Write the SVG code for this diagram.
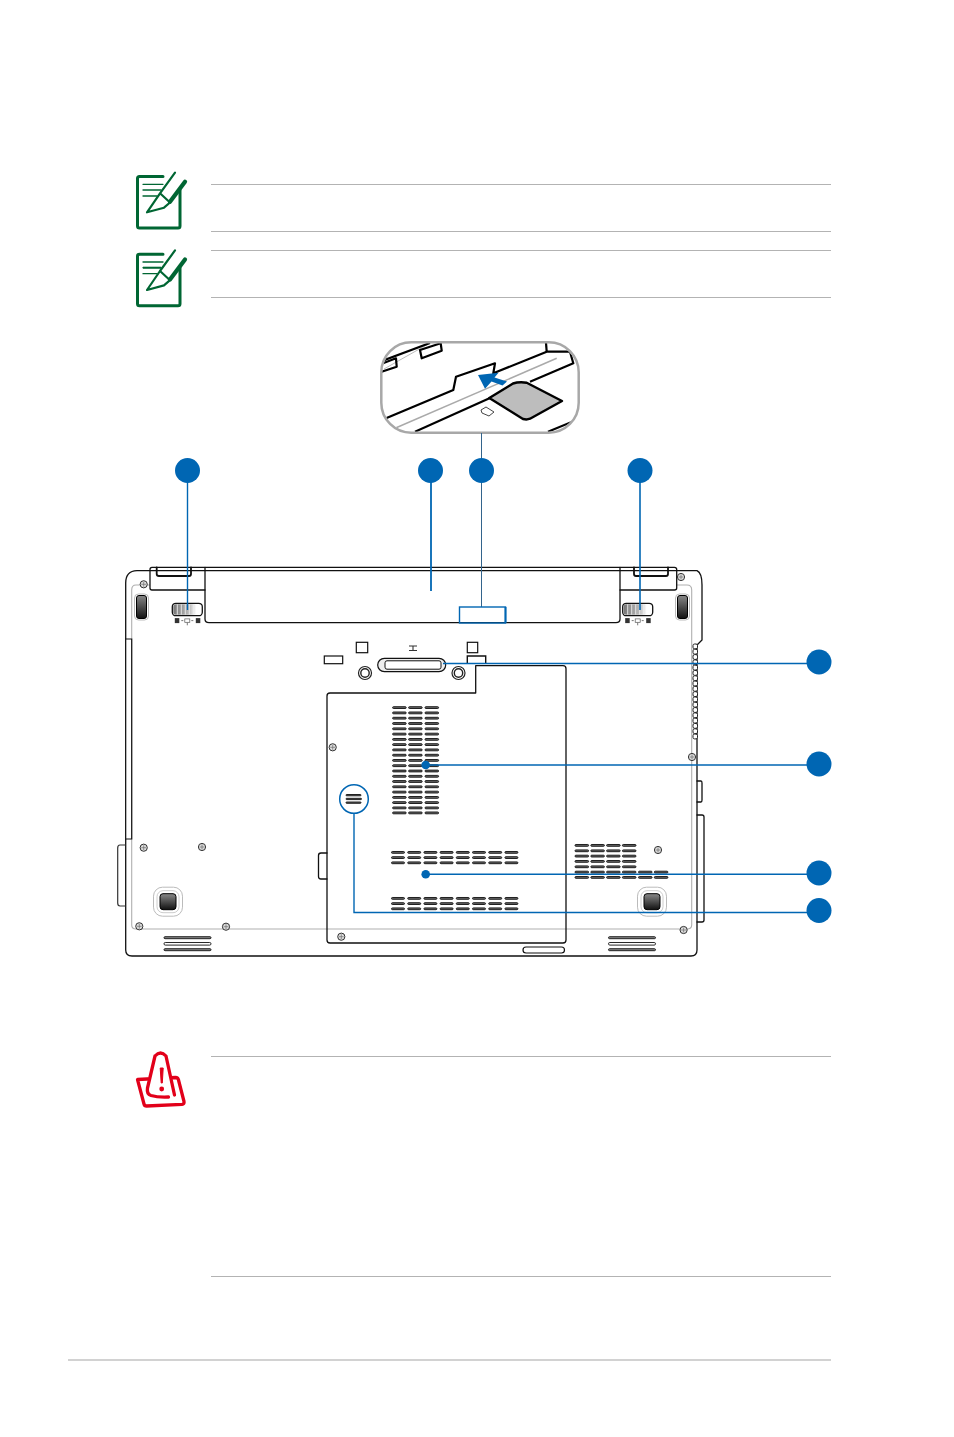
<svg xmlns="http://www.w3.org/2000/svg" width="954" height="1437" viewBox="0 0 954 1437">
<style>
.rule{stroke:#b3b3b3;stroke-width:1;fill:none}
.ln{fill:none;stroke:#111;stroke-width:1.3;stroke-linejoin:round;stroke-linecap:round}
.thin{fill:none;stroke:#333;stroke-width:1.2;stroke-linejoin:round}
.in{fill:none;stroke:#b0b0b0;stroke-width:1.1}
.blue{fill:none;stroke:#0066b3;stroke-width:1.4}
.dot{fill:#0066b3}
.slot{fill:#666;stroke:#111;stroke-width:.9}
.grn{fill:none;stroke:#006633;stroke-linecap:round;stroke-linejoin:round}
.red{fill:none;stroke:#e2001a;stroke-width:3.3;stroke-linecap:round;stroke-linejoin:round}
.ins{fill:none;stroke:#000;stroke-width:2.2;stroke-linejoin:round}
</style>
<defs>
<linearGradient id="bodyFill" x1="0" y1="0" x2="0" y2="1">
<stop offset="0" stop-color="#f1f1f1"/><stop offset=".1" stop-color="#fdfdfd"/><stop offset=".65" stop-color="#fff"/><stop offset="1" stop-color="#ececec"/>
</linearGradient>
<linearGradient id="battFill" x1="0" y1="0" x2="0" y2="1">
<stop offset="0" stop-color="#f4f4f4"/><stop offset=".3" stop-color="#fff"/><stop offset=".7" stop-color="#fff"/><stop offset="1" stop-color="#e6e6e6"/>
</linearGradient>
<linearGradient id="footFill" x1="0" y1="0" x2="0" y2="1">
<stop offset="0" stop-color="#888"/><stop offset="1" stop-color="#111"/>
</linearGradient>
<linearGradient id="ribs" x1="0" y1="0" x2="1" y2="0">
<stop offset="0" stop-color="#777"/><stop offset=".7" stop-color="#bbb"/><stop offset="1" stop-color="#fff"/>
</linearGradient>
<clipPath id="lens"><rect x="382" y="343" width="196" height="89" rx="30"/></clipPath>
<rect id="s12" class="slot" x="0" y="-.8" width="13" height="1.800" rx=".9"/>
<rect id="s14" class="slot" x="0" y="-.8" width="13.600" height="1.800" rx=".9"/>
<g id="vrow"><use href="#s14"/><use href="#s14" x="16"/><use href="#s14" x="32.400"/></g>
<g id="hrow"><use href="#s12"/><use href="#s12" x="16.200"/><use href="#s12" x="32.400"/><use href="#s12" x="48.600"/><use href="#s12" x="64.800"/><use href="#s12" x="81"/><use href="#s12" x="97.200"/><use href="#s12" x="113.400"/></g>
<g id="rrow"><use href="#s14"/><use href="#s14" x="15.800"/><use href="#s14" x="31.600"/><use href="#s14" x="47.400"/></g>
<g id="grill">
<rect class="slot" x="0" y="0" width="47" height="2" rx="1" style="fill:#888"/>
<rect class="slot" x="0" y="5.800" width="47" height="2.600" rx="1.300" style="fill:#fff"/>
<rect class="slot" x="0" y="12" width="47" height="2" rx="1" style="fill:#888"/>
</g>
<g id="screw">
<circle r="3.600" fill="#ddd" stroke="#333" stroke-width="1"/>
<path d="M-2.400 0H2.400M0-2.400V2.400" stroke="#777" stroke-width=".8"/>
</g>
<g id="foot">
<rect x="-14.500" y="-14.500" width="29" height="29" rx="9" fill="#fff" stroke="#bbb" stroke-width="1"/>
<rect x="-11" y="-11" width="22" height="22" rx="6" fill="none" stroke="#ccc" stroke-width="1"/>
<rect x="-8" y="-8" width="16" height="16" rx="3" fill="url(#footFill)" stroke="#000" stroke-width="1"/>
</g>
<g id="pad">
<rect x="-7" y="-13" width="14" height="26" rx="4" fill="#fff" stroke="#bbb" stroke-width="1"/>
<rect x="-5" y="-11.500" width="10" height="23" rx="2.500" fill="url(#footFill)" stroke="#000" stroke-width="1"/>
</g>
<g id="latch">
<rect x="0" y="0" width="30" height="12.400" rx="3.500" fill="#fff" stroke="#111" stroke-width="1.300"/>
<rect x="1" y="1" width="23" height="10.400" rx="2.500" fill="url(#ribs)"/>
<path d="M5 1v10.400M9 1v10.400M13 1v10.400M17 1v10.400M21 1v10.400" stroke="#eee" stroke-width=".9"/>
<rect x="2.500" y="14.800" width="4.500" height="5" fill="#333"/>
<rect x="12.500" y="15.600" width="5" height="3.400" fill="none" stroke="#555" stroke-width=".7"/>
<rect x="23.500" y="14.800" width="4.500" height="5" fill="#333"/>
<path d="M9 17.300h2M19 17.300h2M15 19.400v2.600" stroke="#555" stroke-width=".8"/>
</g>
<g id="note">
<path class="grn" stroke-width="3" d="M163 176.500H139.500q-2 0-2 2V226q0 2 2 2H178q2 0 2-2V190"/>
<path class="grn" stroke-width="1.300" d="M143 184.300H163M143 190H161M143 196H157"/>
<path class="grn" stroke-width="2.200" d="M175 172.700L160 193.300L170 202.500L164 207.700L147 212.300L160 193.300"/>
<path class="grn" stroke-width="4.200" d="M185 181.700L170 201.700"/>
</g>
</defs>

<g id="page-rules">
<path class="rule" d="M211 184.500H831M211 231.500H831M211 250.500H831M211 297.500H831M211 1056.500H831M211 1276.500H831"/>
<path d="M68 1360H831" stroke="#d2d2d2" stroke-width="2"/>
</g>

<g id="note-icon-1"><use href="#note"/></g>
<g id="note-icon-2"><use href="#note" y="77.700"/><path d="M143 267.700H161" stroke="#006633" stroke-width="2"/></g>

<g id="warning-icon">
<path class="red" d="M137.500 1079.500L175.500 1077.500Q178 1077.500 178.500 1080L184 1101.500Q184.500 1104 182 1104.300L146.500 1106Q144.500 1106 144 1104L137.500 1079.500Z" fill="#fff"/>
<path d="M155 1054Q160.500 1050 165.500 1054L176 1094Q160 1100 148 1097Q144 1092 146 1088Z" fill="#fff"/>
<path class="red" d="M155 1056Q160.500 1050 166 1056L174.500 1095M155 1056L147.500 1088Q146.500 1094 151 1095.500Q158 1097.500 168.500 1097"/>
<path d="M160.200 1068H163.200L162.300 1083H161.200Z" fill="#e2001a" stroke="#e2001a" stroke-width="1"/>
<circle cx="161.700" cy="1089" r="2.400" fill="#e2001a"/>
</g>

<g id="card-inset">
<g clip-path="url(#lens)">
<rect x="381" y="342" width="198" height="91" fill="#fff"/>
<path d="M384 369L430 343" stroke="#bbb" stroke-width="1" fill="none"/>
<path class="ins" d="M382 361L430 343"/>
<path class="ins" d="M420 350L440.700 343.300L441.700 350.700L421.700 358.300Z"/>
<path class="ins" d="M381 364L396 358.300L396.700 366.700L381 372"/>
<path d="M395 428.300L556.700 358.300" stroke="#aaa" stroke-width="1.500" fill="none"/>
<path class="ins" d="M386 418.300L453.300 390L456 376.700L495 363.300L493.300 373.300L546.700 351.700L570 351.700L573.300 363.300L530 381.700"/>
<path class="ins" d="M546.700 351.700L546 343"/>
<path class="ins" d="M415 431.700L490 398"/>
<path class="ins" d="M548 431.700L579 419"/>
</g>
<path d="M489.300 398L513 383.500Q519 381.500 526.700 382.700L562 401L530 418.700Q527 420 523 419Z" fill="#bdbdbd" stroke="#000" stroke-width="2.400" stroke-linejoin="round"/>
<path d="M478 375L498.500 372.700L494.500 377.500L507 381.500L502.500 385.500L491.500 381.500L485 388.800Z" fill="#0066b3"/>
<path d="M481 410L486 407L494 412L489 416L482 413Z" fill="#fff" stroke="#333" stroke-width=".9"/>
<rect x="381.300" y="342.300" width="197.400" height="90.400" rx="30" fill="none" stroke="#a8a8a8" stroke-width="2.500"/>
</g>

<g id="laptop-body">
<path class="ln" d="M125.700 900V583Q125.700 571 137 570.700H697Q702 573 702 585V640L697 645V950Q697 956 691 956H132Q125.700 956 125.700 950Z" fill="url(#bodyFill)"/>
<path class="thin" d="M125.700 845H120Q117.700 845 117.700 848V903Q117.700 906 120 906H125.700"/>
<path class="in" d="M150 585H136Q131.700 585 131.700 590V925Q131.700 929 136 929H687Q691.700 929 691.700 925V590Q691.700 585 687 585H676"/>
<path d="M125.700 639H131.700V839H125.700Z" fill="#fff" stroke="#111" stroke-width="1.200"/>
<path class="ln" d="M697 781H701Q702 781 702 783V800Q702 802 701 802H697"/>
<path class="ln" d="M697 815H702Q704 815 704 817V920Q704 922 702 922H697"/>
<!-- serrated edge along the right side -->
<g fill="#fff" stroke="#222" stroke-width="1">
<rect x="693" y="644" width="4.500" height="4.800" rx="1.500"/><rect x="693" y="649.300" width="4.500" height="4.800" rx="1.500"/><rect x="693" y="654.600" width="4.500" height="4.800" rx="1.500"/><rect x="693" y="659.900" width="4.500" height="4.800" rx="1.500"/><rect x="693" y="665.200" width="4.500" height="4.800" rx="1.500"/><rect x="693" y="670.500" width="4.500" height="4.800" rx="1.500"/><rect x="693" y="675.800" width="4.500" height="4.800" rx="1.500"/><rect x="693" y="681.100" width="4.500" height="4.800" rx="1.500"/><rect x="693" y="686.400" width="4.500" height="4.800" rx="1.500"/><rect x="693" y="691.700" width="4.500" height="4.800" rx="1.500"/><rect x="693" y="697" width="4.500" height="4.800" rx="1.500"/><rect x="693" y="702.300" width="4.500" height="4.800" rx="1.500"/><rect x="693" y="707.600" width="4.500" height="4.800" rx="1.500"/><rect x="693" y="712.900" width="4.500" height="4.800" rx="1.500"/><rect x="693" y="718.200" width="4.500" height="4.800" rx="1.500"/><rect x="693" y="723.500" width="4.500" height="4.800" rx="1.500"/><rect x="693" y="728.800" width="4.500" height="4.800" rx="1.500"/><rect x="693" y="734.100" width="4.500" height="4.800" rx="1.500"/>
</g>
</g>

<g id="battery">
<path class="ln" d="M205 567.300H620V619Q620 622.700 616 622.700H209Q205 622.700 205 619Z" fill="url(#battFill)"/>
<path class="ln" d="M205 567.300H152Q150 567.300 150 569.500V588Q150 590 152 590H205" fill="#fff"/>
<path class="ln" d="M156.700 567.300V574Q156.700 576 159 576H189Q191 576 191 574V567.300" style="stroke-width:1.800"/>
<path class="ln" d="M620 567.300H674.500Q676.700 567.300 676.700 569.500V588Q676.700 590 674.500 590H620" fill="#fff"/>
<path class="ln" d="M634 567.300V574Q634 576 636 576H666Q668 576 668 574V567.300" style="stroke-width:1.800"/>
</g>

<g id="battery-latches">
<use href="#latch" x="172.300" y="603.300"/>
<use href="#latch" x="622.700" y="603.300"/>
</g>

<g id="feet">
<use href="#pad" x="141.500" y="607"/>
<use href="#pad" x="682.500" y="607"/>
<use href="#foot" x="168" y="901.700"/>
<use href="#foot" x="652" y="901.700"/>
</g>

<g id="dock-connector">
<rect x="356.300" y="642.300" width="11.400" height="10.400" fill="#fff" stroke="#111" stroke-width="1.200"/>
<rect x="467.300" y="642.300" width="10.400" height="10.400" fill="#fff" stroke="#111" stroke-width="1.200"/>
<rect x="324.300" y="656" width="18.400" height="7.700" fill="#fff" stroke="#111" stroke-width="1.200"/>
<path d="M467.300 663.500V656H485.700V663.500" fill="#fff" stroke="#111" stroke-width="1.400"/>
<rect x="377.700" y="658.300" width="68" height="13.400" rx="6.700" fill="#eee" stroke="#111" stroke-width="1.200"/>
<rect x="385" y="660.800" width="56" height="8.400" rx="2" fill="#fff" stroke="#111" stroke-width="1"/>
<circle cx="365" cy="673" r="6.500" fill="#fff" stroke="#222" stroke-width="1.200"/>
<circle cx="365" cy="673" r="4.200" fill="#fff" stroke="#222" stroke-width="1.400"/>
<circle cx="458.500" cy="673" r="6.500" fill="#fff" stroke="#222" stroke-width="1.200"/>
<circle cx="458.500" cy="673" r="4.200" fill="#fff" stroke="#222" stroke-width="1.400"/>
<path d="M409 646H417M409 650.500H417M413 646V650.500" stroke="#333" stroke-width="1.100" fill="none"/>
</g>

<g id="memory-door">
<path class="ln" d="M475.700 665.700H563Q566 665.700 566 668.700V940Q566 943 563 943H330Q327 943 327 940V696Q327 693 330 693H475.700Z" fill="url(#bodyFill)"/>
<path class="ln" d="M327 853H321Q318.500 853 318.500 855.500V876.500Q318.500 879 321 879H327"/>
<rect x="523" y="947" width="41.500" height="6" rx="3" fill="#fff" stroke="#111" stroke-width="1.200"/>
</g>

<g id="vents">
<g transform="translate(392.600 0)">
<use href="#vrow" y="707.500"/><use href="#vrow" y="712.800"/><use href="#vrow" y="718.100"/><use href="#vrow" y="723.400"/><use href="#vrow" y="728.700"/><use href="#vrow" y="734"/><use href="#vrow" y="739.300"/><use href="#vrow" y="744.500"/><use href="#vrow" y="749.800"/><use href="#vrow" y="755.100"/><use href="#vrow" y="760.300"/><use href="#vrow" y="765.600"/><use href="#vrow" y="770.900"/><use href="#vrow" y="776.200"/><use href="#vrow" y="781.400"/><use href="#vrow" y="786.700"/><use href="#vrow" y="792"/><use href="#vrow" y="797.300"/><use href="#vrow" y="802.500"/><use href="#vrow" y="807.800"/><use href="#vrow" y="812.800"/>
</g>
<g transform="translate(391.500 0)">
<use href="#hrow" y="852.300"/><use href="#hrow" y="857.500"/><use href="#hrow" y="862.700"/>
<use href="#hrow" y="898.300"/><use href="#hrow" y="903.500"/><use href="#hrow" y="908.700"/>
</g>
<g transform="translate(575 0)">
<use href="#rrow" y="845.300"/><use href="#rrow" y="850.700"/><use href="#rrow" y="856"/><use href="#rrow" y="861.300"/><use href="#rrow" y="866.700"/><use href="#rrow" y="872"/><use href="#rrow" y="877.300"/>
<use href="#s14" x="63.500" y="872"/><use href="#s14" x="79.300" y="872"/><use href="#s14" x="63.500" y="877.300"/><use href="#s14" x="79.300" y="877.300"/>
</g>
<use href="#grill" x="164" y="936.700"/>
<use href="#grill" x="608.500" y="936.700"/>
</g>

<g id="screws">
<use href="#screw" x="143.700" y="584.300"/><use href="#screw" x="681" y="577"/>
<use href="#screw" x="143.700" y="847.700"/><use href="#screw" x="202" y="847"/>
<use href="#screw" x="139.300" y="926.300"/><use href="#screw" x="226" y="926.700"/>
<use href="#screw" x="341.300" y="936.700"/><use href="#screw" x="332.700" y="747.300"/>
<use href="#screw" x="692" y="757"/><use href="#screw" x="658" y="850"/><use href="#screw" x="683.600" y="930"/>
</g>

<g id="connectors">
<path class="blue" d="M187.500 470V610"/>
<path class="blue" d="M431 470V591" style="stroke-width:1.800"/>
<path class="blue" d="M481.500 433V607" style="stroke:#33648c;stroke-width:1"/>
<path class="blue" d="M640 470V610" style="stroke-width:1.600"/>
<rect class="blue" x="459.500" y="607" width="46" height="16"/>
<path class="blue" d="M505.500 607V623" style="stroke-width:2"/>
<path class="blue" d="M443 663.500H819"/>
<path class="blue" d="M425.700 765H819"/>
<path class="blue" d="M425.700 874.300H819"/>
<path class="blue" d="M354 813V912.500H819"/>
</g>

<g id="callouts">
<circle class="dot" cx="187.500" cy="470.500" r="12.500"/>
<circle class="dot" cx="430.500" cy="470.500" r="12.500"/>
<circle class="dot" cx="481.500" cy="470.500" r="12.500"/>
<circle class="dot" cx="640" cy="470.500" r="12.500"/>
<circle class="dot" cx="819" cy="662" r="12.500"/>
<circle class="dot" cx="819" cy="764" r="12.500"/>
<circle class="dot" cx="819" cy="873" r="12.500"/>
<circle class="dot" cx="819" cy="910.500" r="12.500"/>
<circle class="dot" cx="425.700" cy="765" r="4.300"/>
<circle class="dot" cx="425.700" cy="874.300" r="4.300"/>
</g>

<g id="vent-detail">
<circle cx="354" cy="799" r="14.300" fill="#fff" stroke="#0066b3" stroke-width="1.500"/>
<rect class="slot" x="346" y="794.500" width="15" height="1.300" rx=".6"/>
<rect class="slot" x="346" y="798.300" width="15.500" height="1.300" rx=".6"/>
<rect class="slot" x="346" y="802" width="15" height="1.300" rx=".6"/>
</g>
</svg>
